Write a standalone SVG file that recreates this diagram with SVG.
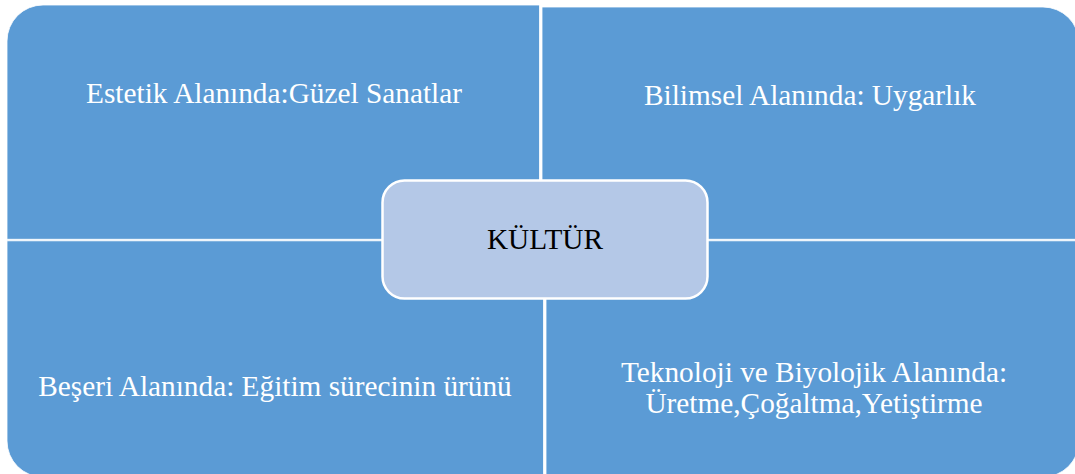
<svg xmlns="http://www.w3.org/2000/svg" width="1075" height="474" viewBox="0 0 1075 474">
<style>
.q{fill:#5B9BD5;stroke:#ffffff;stroke-width:0.8}
.t{font-family:"Liberation Serif","Times New Roman",serif;font-size:29.3px;fill:#ffffff;text-anchor:middle}
.c{fill:#B4C8E7;stroke:#ffffff;stroke-width:2.5}
.ct{font-family:"Liberation Serif","Times New Roman",serif;font-size:29.3px;fill:#000000;text-anchor:middle}
</style>
<rect width="1075" height="474" fill="#ffffff"/>
<g id="estetik">
<path class="q" d="M7,41 A36,36 0 0 1 43,5 L539.5,5 L539.5,239.3 L7,239.3 Z"/>
<text class="t" x="274" y="102.5">Estetik Alanında:Güzel Sanatlar</text>
</g>
<g id="bilimsel">
<path class="q" d="M542,7 L1043,7 A36,36 0 0 1 1079,43 L1079,239.3 L542,239.3 Z"/>
<text class="t" x="810" y="105">Bilimsel Alanında: Uygarlık</text>
</g>
<g id="beseri">
<path class="q" d="M7,240.8 L543.5,240.8 L543.5,477 L43,477 A36,36 0 0 1 7,441 Z"/>
<text class="t" x="275" y="396">Beşeri Alanında: Eğitim sürecinin ürünü</text>
</g>
<g id="teknoloji">
<path class="q" d="M546,240.8 L1079,240.8 L1079,441 A36,36 0 0 1 1043,477 L546,477 Z"/>
<text class="t" x="814" y="382">Teknoloji ve Biyolojik Alanında:</text>
<text class="t" x="814" y="413">Üretme,Çoğaltma,Yetiştirme</text>
</g>
<g id="connectors"></g>
<g id="kultur">
<rect class="c" x="382.5" y="180.5" width="325" height="118" rx="22" ry="22"/>
<text class="ct" x="545" y="249">KÜLTÜR</text>
</g>
</svg>
